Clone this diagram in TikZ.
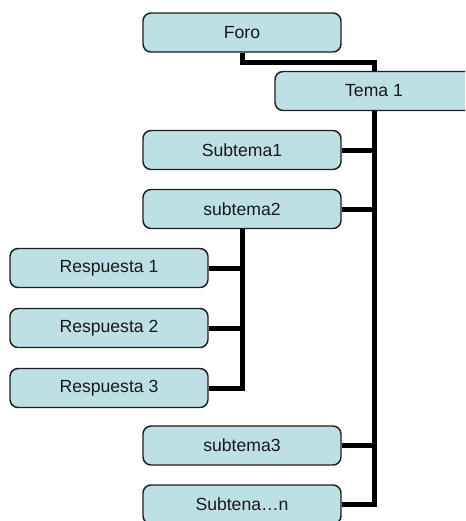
\documentclass[tikz,border=0pt]{standalone}
\usepackage{fontspec}
\setmainfont{Liberation Sans}
\usepackage{xcolor}
\usetikzlibrary{positioning,calc}
\definecolor{boxfill}{RGB}{188,224,227}
\definecolor{boxline}{RGB}{30,30,30}

\begin{document}
\begin{tikzpicture}[x=0.75pt,y=-0.75pt,
    topic/.style={draw=boxline, line width=1.1pt, fill=boxfill, rounded corners=6pt,
        minimum width=148.5pt, minimum height=29.25pt, inner sep=0pt,
        font=\fontsize{13.2}{15}\selectfont, text=black!90},
    conn/.style={line width=3.75pt, black}]
    \useasboundingbox (0,0) rectangle (465,521);
    \clip (0,0) rectangle (465,521);

    % Forum and theme
    \node[topic] (foro) at (242,32.5) {Foro};
    \node[topic] (tema) at (374,91) {Tema 1};

    % Subthemes
    \node[topic] (sub1) at (242,150) {Subtema1};
    \node[topic] (sub2) at (242,209) {subtema2};
    \node[topic] (sub3) at (242,445.5) {subtema3};
    \node[topic] (subn) at (242,504.5) {Subtena\dots n};

    % Answers
    \node[topic] (resp1) at (109,268) {Respuesta 1};
    \node[topic] (resp2) at (109,328) {Respuesta 2};
    \node[topic] (resp3) at (109,388) {Respuesta 3};

    % Connectors
    \draw[conn] (foro.south) -- ++(0,10) -| (tema.north);
    \draw[conn] (tema.south) |- (subn.east);
    \draw[conn] (sub1.east) -- (sub1.east -| tema.south);
    \draw[conn] (sub2.east) -- (sub2.east -| tema.south);
    \draw[conn] (sub3.east) -- (sub3.east -| tema.south);
    \draw[conn] (sub2.south) |- (resp3.east);
    \draw[conn] (resp1.east) -- (resp1.east -| sub2.south);
    \draw[conn] (resp2.east) -- (resp2.east -| sub2.south);
\end{tikzpicture}
\end{document}
